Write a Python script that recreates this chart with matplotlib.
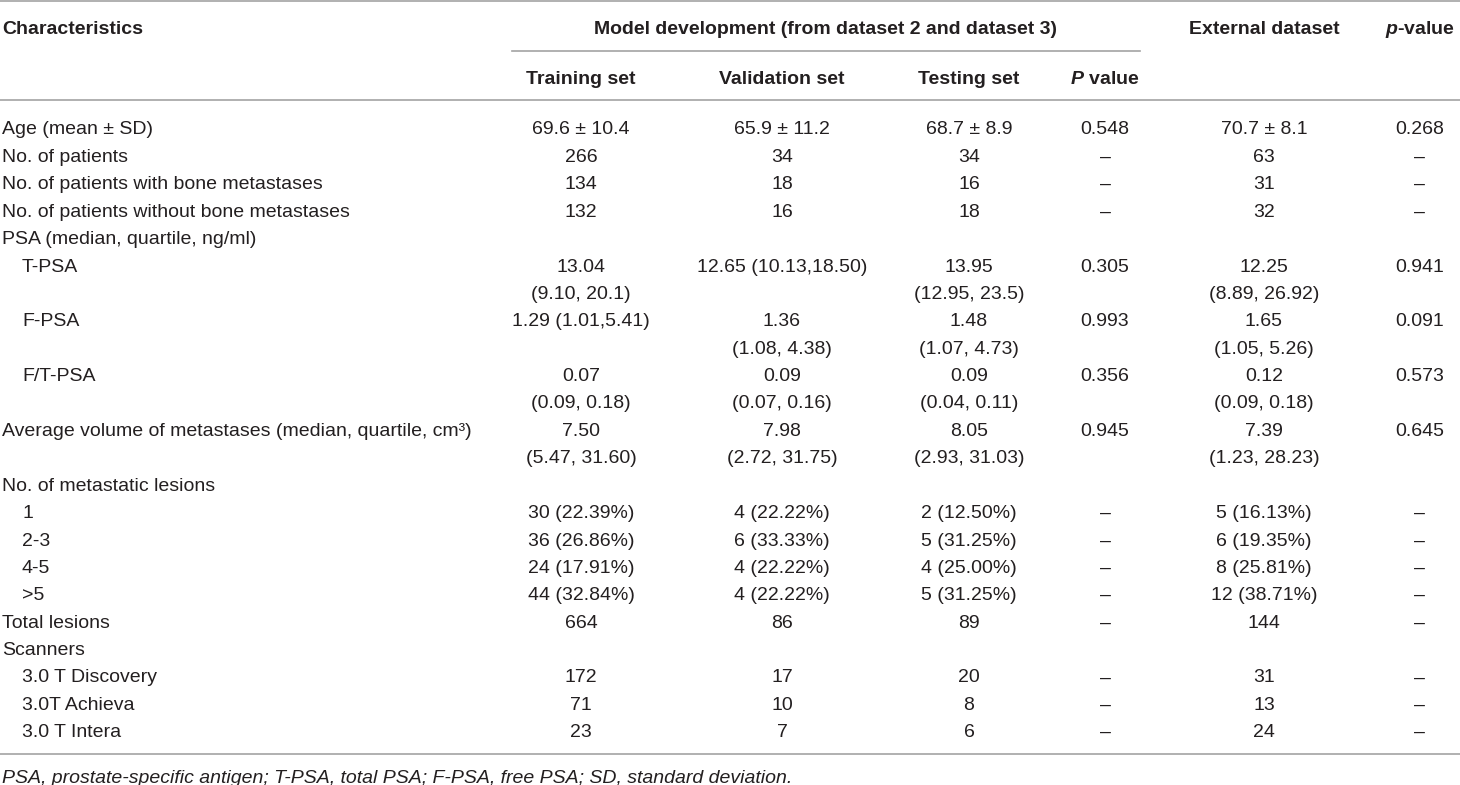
import matplotlib
matplotlib.use("Agg")
from matplotlib import pyplot as plt

plt.rcParams['font.family'] = ['Liberation Sans', 'DejaVu Sans']
plt.rcParams['mathtext.fontset'] = 'custom'
plt.rcParams['mathtext.bfit'] = 'Liberation Sans:bold:italic'
plt.rcParams['mathtext.it'] = 'Liberation Sans:italic'
plt.rcParams['mathtext.bf'] = 'Liberation Sans:bold'

characteristics = ["Age (mean ± SD)", "No. of patients", "No. of patients with bone metastases",
                   "No. of patients without bone metastases", "PSA (median, quartile, ng/ml)",
                   "T-PSA", "", "F-PSA", "", "F/T-PSA", "",
                   "Average volume of metastases (median, quartile, cm³)", "",
                   "No. of metastatic lesions", "1", "2-3", "4-5", ">5", "Total lesions",
                   "Scanners", "3.0 T Discovery", "3.0T Achieva", "3.0 T Intera"]
indent = [0, 0, 0, 0, 0, 1, 0, 1, 0, 1, 0, 0, 0, 0, 1, 1, 1, 1, 0, 0, 1, 1, 1]

training = ["69.6 ± 10.4", "266", "134", "132", "", "13.04", "(9.10, 20.1)", "1.29 (1.01,5.41)", "",
            "0.07", "(0.09, 0.18)", "7.50", "(5.47, 31.60)", "", "30 (22.39%)", "36 (26.86%)",
            "24 (17.91%)", "44 (32.84%)", "664", "", "172", "71", "23"]
validation = ["65.9 ± 11.2", "34", "18", "16", "", "12.65 (10.13,18.50)", "", "1.36", "(1.08, 4.38)",
              "0.09", "(0.07, 0.16)", "7.98", "(2.72, 31.75)", "", "4 (22.22%)", "6 (33.33%)",
              "4 (22.22%)", "4 (22.22%)", "86", "", "17", "10", "7"]
testing = ["68.7 ± 8.9", "34", "16", "18", "", "13.95", "(12.95, 23.5)", "1.48", "(1.07, 4.73)",
           "0.09", "(0.04, 0.11)", "8.05", "(2.93, 31.03)", "", "2 (12.50%)", "5 (31.25%)",
           "4 (25.00%)", "5 (31.25%)", "89", "", "20", "8", "6"]
p_dev = ["0.548", "–", "–", "–", "", "0.305", "", "0.993", "", "0.356", "", "0.945", "", "",
         "–", "–", "–", "–", "–", "", "–", "–", "–"]
external = ["70.7 ± 8.1", "63", "31", "32", "", "12.25", "(8.89, 26.92)", "1.65", "(1.05, 5.26)",
            "0.12", "(0.09, 0.18)", "7.39", "(1.23, 28.23)", "", "5 (16.13%)", "6 (19.35%)",
            "8 (25.81%)", "12 (38.71%)", "144", "", "31", "13", "24"]
p_ext = ["0.268", "–", "–", "–", "", "0.941", "", "0.091", "", "0.573", "", "0.645", "", "",
         "–", "–", "–", "–", "–", "", "–", "–", "–"]

columns = [training, validation, testing, p_dev, external, p_ext]
col_x = [581, 782, 969, 1105, 1264, 1420]
sub_headers = ["Training set", "Validation set", "Testing set"]
footnote = "PSA, prostate-specific antigen; T-PSA, total PSA; F-PSA, free PSA; SD, standard deviation."

txt = "#231f20"
line_c = "#a3a3a3"
fs = 14
off = 7  # half cap height, to put baseline under row centre

fig = plt.figure(figsize=(14.6, 7.85), dpi=100)
ax = fig.add_axes([0, 0, 1, 1])
ax.set_xlim(0, 1460)
ax.set_ylim(785, 0)
ax.axis("off")

# rules
ax.plot([0, 1460], [1.2, 1.2], color=line_c, lw=1.2)
ax.plot([512, 1140], [51, 51], color=line_c, lw=1.2)
ax.plot([0, 1460], [100, 100], color=line_c, lw=1.2)
ax.plot([0, 1460], [754, 754], color=line_c, lw=1.2)

def put(x, y, s, **kw):
    ax.text(x, y + off, s, fontsize=fs, color=txt, va="baseline", **kw)

# headers
put(2, 27, "Characteristics", fontweight="bold")
put(826, 27, "Model development (from dataset 2 and dataset 3)", fontweight="bold", ha="center")
put(col_x[4], 27, "External dataset", fontweight="bold", ha="center")
put(col_x[5], 27, r"$\mathbfit{p}$" + "-value", fontweight="bold", ha="center")
for h, x in zip(sub_headers, col_x[:3]):
    put(x, 77, h, fontweight="bold", ha="center")
put(col_x[3], 77, r"$\mathbfit{P}$" + " value", fontweight="bold", ha="center")

# body
y0 = 127.5
dy = 27.4
for i, lab in enumerate(characteristics):
    y = y0 + i * dy
    put(2 + indent[i] * 20, y, lab)
    for col, x in zip(columns, col_x):
        if col[i]:
            put(x, y, col[i], ha="center")

put(2, 776, footnote, style="italic")

fig.savefig("out.png", dpi=100)
